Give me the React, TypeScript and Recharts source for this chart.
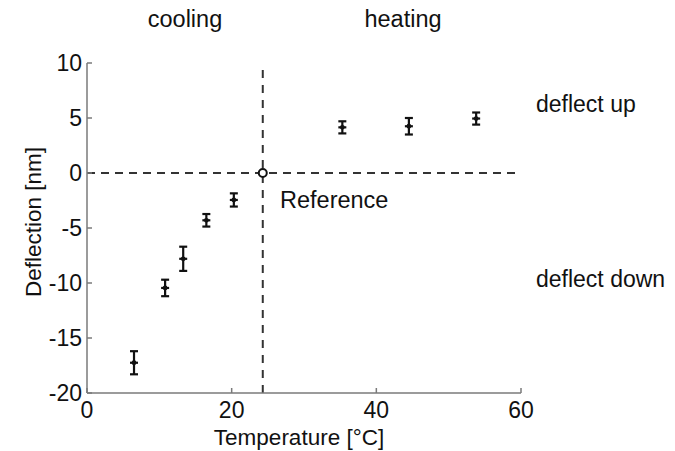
import { ErrorBar, ReferenceDot, ReferenceLine, Scatter, ScatterChart, XAxis, YAxis } from 'recharts';

// measured points (temperature in °C, deflection in nm, ± error)
const temps = [6.5, 10.8, 13.3, 16.5, 20.3, 35.3, 44.5, 53.8];
const deflections = [-17.25, -10.45, -7.8, -4.3, -2.45, 4.15, 4.25, 4.95];
const errors = [1.05, 0.75, 1.1, 0.57, 0.6, 0.55, 0.75, 0.55];

const REF_TEMP = 24.3;
const xTicks = [0, 20, 40, 60];
const yTicks = [-20, -15, -10, -5, 0, 5, 10];

const FONT = '"Liberation Sans", Arial, sans-serif';
const AXIS = '#7a7a7a';
const INK = '#111';

const data = temps.map((t, i) => ({ t, d: deflections[i], err: errors[i] }));

function PlusMarker(props: any) {
  const { cx, cy } = props;
  if (cx == null || cy == null) return null;
  return (
    <g>
      <line x1={cx - 4} x2={cx + 4} y1={cy} y2={cy} stroke={INK} strokeWidth={2.2} />
      <circle cx={cx} cy={cy} r={2.4} fill={INK} />
    </g>
  );
}

export default function App() {
  const tick = { fontSize: 23, fill: INK, fontFamily: FONT };
  return (
    <div style={{ position: 'absolute', left: 0, top: 0, width: 675, height: 451, background: '#fff' }}>
      <ScatterChart width={675} height={451} margin={{ top: 63, right: 154, bottom: 0, left: 0 }}>
        <XAxis
          type="number"
          dataKey="t"
          domain={[0, 60]}
          ticks={xTicks}
          interval={0}
          tickSize={-5}
          tickMargin={14}
          height={58}
          axisLine={{ stroke: AXIS, strokeWidth: 1.5 }}
          tickLine={{ stroke: AXIS, strokeWidth: 1.5 }}
          tick={tick}
          label={{
            content: ({ viewBox }: any) => (
              <text
                x={viewBox.x + viewBox.width / 2 - 5}
                y={viewBox.y + viewBox.height - 6}
                textAnchor="middle"
                fontSize={22.5}
                fontFamily={FONT}
                fill={INK}
              >
                Temperature [°C]
              </text>
            ),
          }}
        />
        <YAxis
          type="number"
          dataKey="d"
          domain={[-20, 10]}
          ticks={yTicks}
          interval={0}
          tickSize={-5}
          tickMargin={10}
          width={87}
          axisLine={{ stroke: AXIS, strokeWidth: 1.5 }}
          tickLine={{ stroke: AXIS, strokeWidth: 1.5 }}
          tick={tick}
          label={{
            content: ({ viewBox }: any) => {
              const x = viewBox.x + 41;
              const y = viewBox.y + viewBox.height / 2 - 6;
              return (
                <text
                  x={x}
                  y={y}
                  transform={`rotate(-90 ${x} ${y})`}
                  textAnchor="middle"
                  fontSize={22.5}
                  fontFamily={FONT}
                  fill={INK}
                >
                  Deflection [nm]
                </text>
              );
            },
          }}
        />
        <ReferenceLine y={0} stroke="#333" strokeWidth={2} strokeDasharray="8 6" />
        <ReferenceLine x={REF_TEMP} stroke="#333" strokeWidth={2} strokeDasharray="8 7" />
        <Scatter data={data} shape={<PlusMarker />} isAnimationActive={false}>
          <ErrorBar dataKey="err" direction="y" width={4} stroke={INK} strokeWidth={2.2} />
        </Scatter>
        <ReferenceDot x={REF_TEMP} y={0} r={4} fill="#fff" stroke={INK} strokeWidth={2} />
      </ScatterChart>
      <svg
        width={675}
        height={451}
        style={{ position: 'absolute', left: 0, top: 0, pointerEvents: 'none' }}
        fontFamily={FONT}
        fontSize={23.5}
        fill={INK}
      >
        <text x={185} y={27} textAnchor="middle">cooling</text>
        <text x={403} y={27} textAnchor="middle">heating</text>
        <text x={280} y={208}>Reference</text>
        <text x={536} y={112} fontSize={23}>deflect up</text>
        <text x={536} y={287} fontSize={23}>deflect down</text>
      </svg>
    </div>
  );
}
